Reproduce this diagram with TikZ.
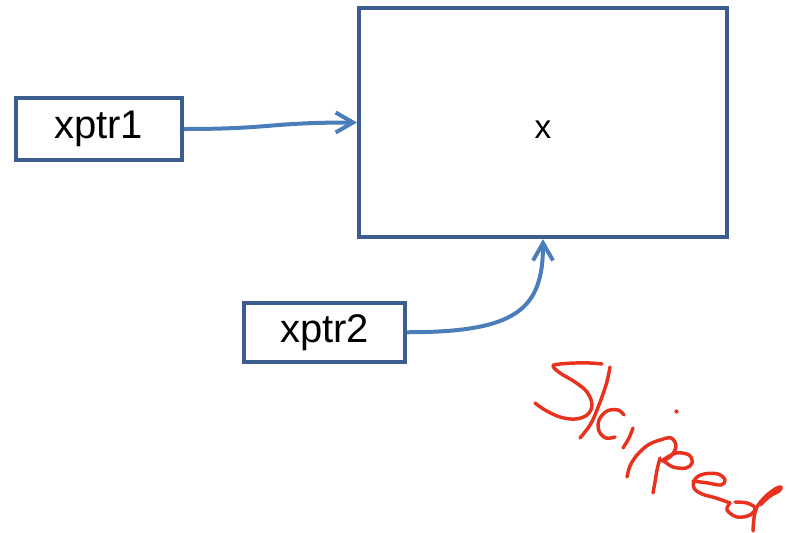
\documentclass[tikz,border=0pt]{standalone}
\usepackage{fontspec}
\setmainfont{Liberation Sans}
\usetikzlibrary{arrows.meta}
\definecolor{boxblue}{HTML}{3B5E8E}
\definecolor{arrblue}{HTML}{4A7EBB}
\definecolor{inkred}{HTML}{E8321E}
\begin{document}
\begin{tikzpicture}[x=0.75pt,y=-0.75pt,
  box/.style={draw=boxblue,line width=3pt,rectangle,inner sep=0pt,fill=white},
  lbl/.style={font=\fontsize{30}{36}\selectfont},
  conn/.style={draw=arrblue,line width=3pt,-{Straight Barb[length=13pt,width=15pt,line width=3pt]}},
  ink/.style={draw=inkred,line width=2.6pt,line cap=round,line join=round}]
\useasboundingbox (0,0) rectangle (787,532);
\node[box,lbl,minimum width=124.5pt,minimum height=46.5pt] (p1) at (98.5,129) {xptr1};
\node[box,lbl,minimum width=120.5pt,minimum height=44pt] (p2) at (324.75,332.25) {xptr2};
\node[box,minimum width=276pt,minimum height=172pt,font=\fontsize{25}{30}\selectfont] (x) at (543,122.5) {\raisebox{-12pt}[0pt][0pt]{x}};
\draw[conn] (p1.east) .. controls +(90,0) and +(-90,0) .. (x.west);
\draw[conn] (p2.east) .. controls +(110,0) and +(0,70) .. (x.south);
% handwritten "Skipped"
\draw[ink] plot[smooth,tension=0.6] coordinates {(602,364) (590,363) (575,363) (560,364) (553,366) (560,373) (575,382) (587,392) (592,405) (587,415) (575,419) (560,417) (545,410) (535,403)};
\draw[ink] plot[smooth,tension=0.6] coordinates {(610,367) (606,385) (597,410) (590,425) (580,438)};
\draw[ink] plot[smooth,tension=0.6] coordinates {(624,415) (618,410) (607,411) (599,420) (599,431) (606,438) (615,437)};
\draw[ink] plot[smooth,tension=0.6] coordinates {(633,428) (629,438) (623,448)};
\fill[inkred] (676.5,411.5) circle (1.6pt);
\draw[ink] plot[smooth,tension=0.6] coordinates {(627,477) (630,466) (637,455) (648,445) (660,440) (671,438) (676,446) (671,456) (662,461)};
\draw[ink] plot[smooth,tension=0.6] coordinates {(660,458) (657,470) (655,482) (653,493)};
\draw[ink] plot[smooth,tension=0.6] coordinates {(663,460) (676,453) (689,455) (692,463) (686,468) (673,467) (664,461)};
\draw[ink] plot[smooth,tension=0.6] coordinates {(693,481) (708,483) (721,485) (725,480) (718,474) (704,474) (695,479) (694,488) (702,494) (716,498) (730,503)};
\draw[ink] plot[smooth,tension=0.6] coordinates {(730,503) (727,510) (737,517) (750,515) (755,508) (747,503) (735,502)};
\draw[ink] plot[smooth,tension=0.6] coordinates {(753,531) (754,518) (757,507) (765,497) (775,489) (781,487) (779,491) (770,496) (760,505)};
\end{tikzpicture}
\end{document}
